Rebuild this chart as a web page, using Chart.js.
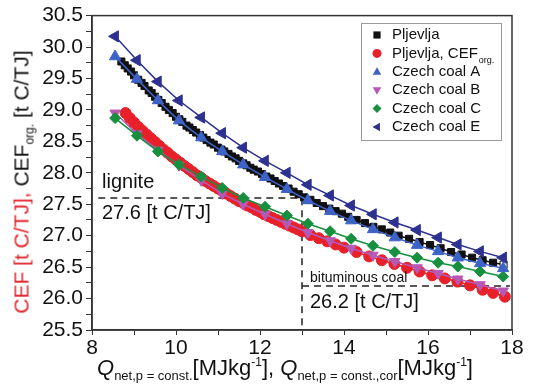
<!DOCTYPE html>
<html>
<head>
<meta charset="utf-8">
<script src="https://cdn.jsdelivr.net/npm/chart.js@4.4.0/dist/chart.umd.min.js"></script>
<style>
  body { margin: 0; background: #fff; font-family: Arial, "Liberation Sans", sans-serif; }
  #wrap { position: relative; width: 533px; height: 389px; }
  .lbl { position: absolute; white-space: nowrap; color: #111; line-height: 1; }
  .lbl sub { font-size: 13px; vertical-align: -5px; }
  .lbl sup { font-size: 12px; vertical-align: 9px; }
</style>
</head>
<body>
<div id="wrap">
  <canvas id="chart" width="533" height="389"></canvas>
  <div class="lbl" id="ytitle" style="left:23px;top:182px;font-size:21px;transform:translate(-50%,-50%) rotate(-90deg);">
    <span style="color:#e3242b">CEF [t C/TJ], </span>CEF<sub style="font-size:12px">org.</sub> [t C/TJ]
  </div>
  <div class="lbl" id="xtitle" style="left:97px;top:356px;font-size:22px;">
    <i>Q</i><sub>net,p = const.</sub>[MJkg<sup>-1</sup>], <i>Q</i><sub>net,p = const.,cor</sub>[MJkg<sup>-1</sup>]
  </div>
  <div class="lbl" style="left:102px;top:171px;font-size:20px;">lignite</div>
  <div class="lbl" style="left:102px;top:202px;font-size:20px;">27.6 [t C/TJ]</div>
  <div class="lbl" style="left:310px;top:270px;font-size:14px;">bituminous coal</div>
  <div class="lbl" style="left:310px;top:291px;font-size:20px;">26.2 [t C/TJ]</div>
</div>
<script>
// Pljevlja, measured Q (black squares)
const pljevljaQ = [8.70, 8.78, 8.85, 8.93, 9.00, 9.10, 9.18, 9.25, 9.35, 9.42, 9.50, 9.58, 9.66, 9.75, 9.83, 9.92,
  10.00, 10.08, 10.15, 10.25, 10.32, 10.40, 10.48, 10.57, 10.65, 10.73, 10.82, 10.90, 11.00, 11.08, 11.15, 11.25,
  11.33, 11.42, 11.50, 11.60, 11.68, 11.77, 11.85, 11.95, 12.05, 12.15, 12.25, 12.35, 12.45, 12.55, 12.68, 12.80,
  12.92, 13.05, 13.20, 13.35, 13.50, 13.65, 13.80, 13.95, 14.10, 14.30, 14.50, 14.70, 14.90, 15.10, 15.30, 15.55,
  15.80, 16.05, 16.30, 16.55, 16.80, 17.05, 17.30, 17.55, 17.80];
const pljevljaCEF = [29.77, 29.71, 29.66, 29.61, 29.55, 29.48, 29.43, 29.38, 29.31, 29.27, 29.21, 29.16, 29.11, 29.05, 29.00, 28.95,
  28.89, 28.85, 28.81, 28.75, 28.72, 28.68, 28.64, 28.60, 28.56, 28.52, 28.48, 28.45, 28.40, 28.37, 28.34, 28.30,
  28.26, 28.23, 28.19, 28.15, 28.12, 28.08, 28.05, 28.02, 27.98, 27.94, 27.91, 27.87, 27.83, 27.79, 27.75, 27.70,
  27.66, 27.61, 27.57, 27.52, 27.47, 27.43, 27.39, 27.35, 27.30, 27.25, 27.20, 27.14, 27.10, 27.05, 27.00, 26.95,
  26.90, 26.85, 26.80, 26.74, 26.70, 26.65, 26.61, 26.57, 26.54];

// Pljevlja, corrected Q and CEF org. (red circles)
const pljevljaQcor = [8.80, 8.90, 9.00, 9.10, 9.20, 9.30, 9.40, 9.50, 9.60, 9.70, 9.80, 9.90, 10.00, 10.10, 10.20,
  10.30, 10.40, 10.50, 10.60, 10.70, 10.80, 10.90, 11.00, 11.10, 11.20, 11.30, 11.40, 11.50, 11.60, 11.70, 11.80,
  11.90, 12.00, 12.10, 12.20, 12.30, 12.40, 12.50, 12.60, 12.70, 12.80, 12.90, 13.00, 13.20, 13.40, 13.60, 13.80,
  14.00, 14.30, 14.60, 14.90, 15.20, 15.50, 15.80, 16.10, 16.40, 16.70, 17.00, 17.30, 17.55, 17.83];
const pljevljaCEForg = [28.95, 28.87, 28.80, 28.73, 28.67, 28.61, 28.55, 28.49, 28.43, 28.37, 28.32, 28.26, 28.21, 28.16, 28.11,
  28.06, 28.01, 27.96, 27.92, 27.87, 27.83, 27.79, 27.75, 27.71, 27.67, 27.63, 27.59, 27.55, 27.52, 27.48, 27.45,
  27.41, 27.38, 27.34, 27.31, 27.28, 27.25, 27.22, 27.19, 27.16, 27.13, 27.10, 27.07, 27.01, 26.96, 26.91, 26.86,
  26.81, 26.74, 26.67, 26.61, 26.55, 26.49, 26.43, 26.37, 26.32, 26.27, 26.21, 26.14, 26.09, 26.03];

// Czech coals share one Q grid
const coalQ = [8.55, 9.07, 9.57, 10.07, 10.60, 11.10, 11.60, 12.12, 12.64, 13.14, 13.67, 14.17, 14.69, 15.21,
  15.74, 16.24, 16.71, 17.24, 17.79];
const coalA = [29.85, 29.49, 29.15, 28.83, 28.56, 28.34, 28.13, 27.93, 27.74, 27.56, 27.39, 27.24, 27.10, 26.97,
  26.85, 26.75, 26.65, 26.56, 26.48];
const coalB = [28.95, 28.62, 28.36, 28.12, 27.88, 27.67, 27.50, 27.34, 27.19, 27.05, 26.92, 26.80, 26.69, 26.59,
  26.49, 26.40, 26.31, 26.22, 26.12];
const coalC = [28.87, 28.59, 28.34, 28.13, 27.94, 27.76, 27.60, 27.46, 27.32, 27.19, 27.07, 26.95, 26.84, 26.74,
  26.65, 26.57, 26.51, 26.43, 26.35];
const coalE = [30.17, 29.79, 29.45, 29.15, 28.88, 28.63, 28.40, 28.19, 28.00, 27.81, 27.64, 27.48, 27.34, 27.21,
  27.09, 26.97, 26.86, 26.75, 26.65];

// reference lines
const ligniteCEF = 27.6;
const bituminousCEF = 26.2;
const boundaryQ = 13;

const colors = {
  black: '#111111',
  red: '#e8202a',
  A: '#3d62c8',
  B: '#b658b6',
  C: '#16903e',
  E: '#2d3190'
};

function pts(xs, ys) {
  return xs.map((x, i) => ({ x: x, y: ys[i] }));
}

function series(label, xs, ys, color, style, radius, rotation, order) {
  return {
    label: label,
    data: pts(xs, ys),
    borderColor: color,
    backgroundColor: color,
    pointBackgroundColor: color,
    pointBorderColor: color,
    pointStyle: style,
    pointRadius: radius,
    pointRotation: rotation,
    pointBorderWidth: 1,
    borderWidth: 1.5,
    showLine: true,
    tension: 0,
    order: order
  };
}

const datasets = [
  series('Pljevlja', pljevljaQ, pljevljaCEF, colors.black, 'rect', 5, 0, 5),
  series('Pljevlja, CEF org.', pljevljaQcor, pljevljaCEForg, colors.red, 'circle', 5.5, 0, 6),
  series('Czech coal A', coalQ, coalA, colors.A, 'triangle', 6.5, 0, 2),
  series('Czech coal B', coalQ, coalB, colors.B, 'triangle', 6, 180, 4),
  series('Czech coal C', coalQ, coalC, colors.C, 'rectRot', 5.5, 0, 3),
  series('Czech coal E', coalQ, coalE, colors.E, 'triangle', 6.5, 270, 1)
];
// last Pljevlja point is an open square
datasets[0].pointBackgroundColor = pljevljaQ.map((q, i) => i === pljevljaQ.length - 1 ? '#ffffff' : colors.black);

// legend entries, drawn by hand because of the subscript
const legendItems = [
  { text: 'Pljevlja', sub: '', color: colors.black, shape: 'square' },
  { text: 'Pljevlja, CEF', sub: 'org.', color: colors.red, shape: 'circle' },
  { text: 'Czech coal A', sub: '', color: colors.A, shape: 'up' },
  { text: 'Czech coal B', sub: '', color: colors.B, shape: 'down' },
  { text: 'Czech coal C', sub: '', color: colors.C, shape: 'diamond' },
  { text: 'Czech coal E', sub: '', color: colors.E, shape: 'left' }
];

function marker(ctx, shape, x, y, r, color) {
  ctx.fillStyle = color;
  ctx.beginPath();
  if (shape === 'square') {
    ctx.rect(x - r * 0.8, y - r * 0.8, r * 1.6, r * 1.6);
  } else if (shape === 'circle') {
    ctx.arc(x, y, r, 0, Math.PI * 2);
  } else if (shape === 'up') {
    ctx.moveTo(x, y - r); ctx.lineTo(x + r * 0.95, y + r * 0.65); ctx.lineTo(x - r * 0.95, y + r * 0.65);
  } else if (shape === 'down') {
    ctx.moveTo(x, y + r); ctx.lineTo(x + r * 0.95, y - r * 0.65); ctx.lineTo(x - r * 0.95, y - r * 0.65);
  } else if (shape === 'diamond') {
    ctx.moveTo(x, y - r); ctx.lineTo(x + r, y); ctx.lineTo(x, y + r); ctx.lineTo(x - r, y);
  } else if (shape === 'left') {
    ctx.moveTo(x - r, y); ctx.lineTo(x + r * 0.65, y - r * 0.95); ctx.lineTo(x + r * 0.65, y + r * 0.95);
  }
  ctx.closePath();
  ctx.fill();
}

const decorations = {
  id: 'decorations',
  beforeDatasetsDraw(chart) {
    const ctx = chart.ctx;
    const xs = chart.scales.x, ys = chart.scales.y;
    ctx.save();
    ctx.strokeStyle = '#222';
    ctx.lineWidth = 1.5;
    ctx.setLineDash([7, 5]);
    ctx.beginPath();
    ctx.moveTo(xs.getPixelForValue(8.15), ys.getPixelForValue(ligniteCEF));
    ctx.lineTo(xs.getPixelForValue(boundaryQ), ys.getPixelForValue(ligniteCEF));
    ctx.lineTo(xs.getPixelForValue(boundaryQ), ys.getPixelForValue(25.5));
    ctx.moveTo(xs.getPixelForValue(boundaryQ), ys.getPixelForValue(bituminousCEF));
    ctx.lineTo(xs.getPixelForValue(17.95), ys.getPixelForValue(bituminousCEF));
    ctx.stroke();
    ctx.restore();
  },
  afterDraw(chart) {
    const ctx = chart.ctx;
    const a = chart.chartArea;
    ctx.save();
    ctx.strokeStyle = '#333';
    ctx.lineWidth = 1.5;
    ctx.strokeRect(a.left, a.top, a.right - a.left, a.bottom - a.top);

    // legend box
    ctx.fillStyle = '#ffffff';
    ctx.fillRect(361, 23, 140, 117);
    ctx.strokeStyle = '#999';
    ctx.lineWidth = 1;
    ctx.strokeRect(361.5, 23.5, 140, 117);
    legendItems.forEach((it, i) => {
      const y = 35 + i * 18.4;
      marker(ctx, it.shape, 377, y, 4.5, it.color);
      ctx.fillStyle = '#111';
      ctx.font = '15px Arial, "Liberation Sans", sans-serif';
      ctx.textBaseline = 'middle';
      ctx.textAlign = 'left';
      ctx.fillText(it.text, 392, y);
      if (it.sub) {
        const w = ctx.measureText(it.text).width;
        ctx.font = '9px Arial, "Liberation Sans", sans-serif';
        ctx.fillText(it.sub, 392 + w + 1, y + 7);
      }
    });
    ctx.restore();
  }
};

new Chart(document.getElementById('chart'), {
  type: 'scatter',
  data: { datasets: datasets },
  options: {
    responsive: false,
    animation: false,
    layout: { padding: { left: 0, right: 21, top: 14, bottom: 0 } },
    plugins: { legend: { display: false }, tooltip: { enabled: false } },
    scales: {
      x: {
        type: 'linear',
        min: 8,
        max: 18,
        afterFit(scale) { scale.height = 59; },
        grid: { drawOnChartArea: false, tickLength: 5, color: '#333' },
        border: { color: '#333', width: 1.5 },
        ticks: {
          stepSize: 1,
          padding: 1,
          color: '#111',
          font: { size: 21, family: 'Arial, "Liberation Sans", sans-serif' },
          maxRotation: 0,
          autoSkip: false,
          callback: v => (Math.round(v) % 2 === 0 ? String(Math.round(v)) : '')
        }
      },
      y: {
        type: 'linear',
        min: 25.5,
        max: 30.5,
        afterFit(scale) { scale.width = 92; },
        grid: { drawOnChartArea: false, tickLength: 6, color: '#333' },
        border: { color: '#333', width: 1.5 },
        ticks: {
          stepSize: 0.25,
          padding: 3,
          color: '#111',
          font: { size: 21, family: 'Arial, "Liberation Sans", sans-serif' },
          autoSkip: false,
          callback: v => (Math.abs(v * 2 - Math.round(v * 2)) < 1e-6 ? v.toFixed(1) : '')
        }
      }
    }
  },
  plugins: [decorations]
});
</script>
</body>
</html>
